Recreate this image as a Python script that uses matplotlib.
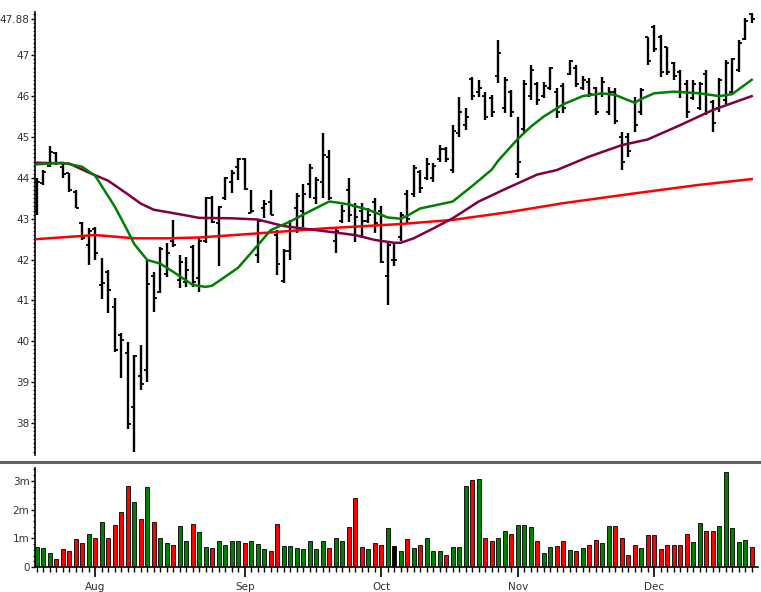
import numpy as np
import pandas as pd
import matplotlib
matplotlib.use('Agg')
import matplotlib.pyplot as plt
from matplotlib.ticker import FixedLocator, MultipleLocator, FuncFormatter
from matplotlib.lines import Line2D

plt.rcParams['font.family'] = ['DejaVu Sans']

# trading days shown (Jul 19 - Dec 22)
dates = pd.bdate_range('2011-07-19', '2011-12-22', freq='C',
                       holidays=['2011-09-05', '2011-11-24'])

opens = [43.2, 43.88, 44.3, 44.6, 44.27, 44.11, 43.66, 42.9, 42.36, 42.75,
         41.38, 41.7, 40.84, 40.15, 39.7, 38.4, 39.15, 39.3, 41.6, 41.2,
         41.65, 42.45, 41.5, 41.45, 42.3, 41.55, 42.45, 43.5, 42.9, 43.5,
         43.9, 44.27, 44.45, 43.15, 42.1, 43.25, 43.4, 42.6, 41.47, 42.2,
         43.25, 43.2, 43.85, 43.5, 43.9, 44.5, 42.45, 42.95, 43.7, 43.3,
         43.2, 42.95, 43.42, 43.2, 41.6, 42.0, 42.55, 43.6, 43.6, 44.15,
         44.0, 44.0, 44.45, 44.7, 44.2, 45.1, 45.3, 46.43, 46.1, 46.0,
         45.95, 46.5, 45.7, 46.1, 44.1, 45.2, 46.0, 46.3, 46.0, 46.2,
         46.1, 46.25, 46.55, 46.7, 46.2, 46.35, 46.2, 46.05, 45.6, 46.1,
         45.0, 45.0, 45.85, 45.6, 47.45, 47.7, 47.45, 47.2, 46.8, 46.6,
         46.3, 45.95, 45.7, 46.55, 45.85, 45.7, 45.9, 46.1, 46.65, 47.4,
         48.0]
highs = [44.0, 44.19, 44.78, 44.64, 44.33, 44.13, 43.7, 42.93, 42.76, 42.79,
         42.03, 41.74, 41.05, 40.19, 39.99, 39.66, 39.91, 41.99, 41.7, 42.31,
         42.4, 42.97, 42.11, 42.07, 42.36, 42.56, 43.54, 43.56, 43.3, 44.03,
         44.19, 44.48, 44.48, 43.7, 42.97, 43.46, 43.7, 42.72, 42.27, 42.97,
         43.64, 43.85, 44.33, 44.01, 45.09, 44.68, 42.8, 43.33, 43.99, 43.38,
         43.38, 43.25, 43.5, 43.3, 42.4, 42.44, 43.17, 43.7, 44.31, 44.19,
         44.48, 44.36, 44.8, 44.76, 45.29, 45.99, 45.7, 46.48, 46.4, 46.11,
         46.03, 47.37, 46.48, 46.15, 45.5, 46.4, 46.76, 46.35, 46.35, 46.72,
         46.19, 46.31, 46.88, 46.76, 46.5, 46.44, 46.23, 46.48, 46.23, 46.19,
         45.13, 45.09, 45.99, 46.19, 47.46, 47.74, 47.5, 47.21, 46.84, 46.64,
         46.4, 46.4, 46.35, 46.64, 45.9, 46.44, 46.88, 46.93, 47.37, 47.91,
         48.04]
lows = [43.1, 43.82, 44.27, 44.32, 43.99, 43.66, 43.25, 42.48, 41.87, 41.99,
        41.03, 40.68, 39.74, 39.09, 37.84, 37.3, 38.81, 39.01, 40.72, 41.17,
        41.58, 42.31, 41.3, 41.34, 41.34, 41.21, 42.4, 42.89, 41.83, 43.46,
        43.62, 43.95, 43.7, 43.13, 41.91, 43.01, 43.09, 41.62, 41.42, 42.0,
        42.65, 42.8, 43.5, 43.35, 43.5, 43.46, 42.15, 42.89, 42.93, 42.44,
        42.52, 42.89, 42.64, 41.91, 40.89, 41.83, 42.45, 42.89, 43.54, 43.62,
        43.95, 43.91, 44.4, 44.4, 44.11, 45.01, 45.17, 45.91, 45.99, 45.42,
        45.48, 46.31, 45.58, 45.48, 43.99, 45.13, 45.91, 45.78, 45.95, 46.15,
        45.46, 45.58, 46.52, 46.22, 46.15, 45.99, 45.54, 45.99, 45.54, 45.33,
        44.19, 44.52, 45.13, 45.54, 46.76, 47.09, 46.48, 46.52, 46.4, 45.95,
        45.46, 45.9, 45.66, 45.54, 45.13, 45.62, 45.82, 46.03, 46.6, 47.37,
        47.78]
closes = [43.9, 44.15, 44.64, 44.36, 44.1, 43.7, 43.27, 42.52, 42.7, 42.15,
          41.42, 41.25, 39.78, 40.03, 37.98, 39.63, 38.96, 41.4, 41.05, 42.27,
          42.15, 42.35, 41.95, 41.75, 41.45, 42.45, 43.5, 42.93, 43.28, 44.0,
          44.13, 44.45, 43.72, 43.2, 42.95, 43.35, 43.1, 41.9, 42.2, 42.8,
          43.55, 43.6, 44.25, 43.95, 44.55, 43.5, 42.7, 43.2, 43.1, 43.05,
          42.95, 43.1, 42.89, 41.95, 42.35, 42.0, 43.1, 43.0, 44.25, 43.75,
          44.35, 44.3, 44.7, 44.45, 45.15, 45.6, 45.5, 46.0, 46.2, 45.5,
          45.6, 47.05, 46.4, 45.6, 44.4, 46.3, 46.65, 45.9, 46.25, 46.7,
          45.6, 45.7, 46.85, 46.3, 46.4, 46.05, 45.6, 46.35, 46.1, 45.4,
          44.4, 44.65, 45.3, 46.15, 46.85, 47.15, 46.6, 46.6, 46.5, 46.1,
          45.6, 46.3, 46.3, 45.6, 45.35, 46.4, 46.8, 46.9, 47.3, 47.85,
          47.88]
volume_m = [0.70, 0.65, 0.49, 0.28, 0.63, 0.57, 0.98, 0.84, 1.15, 1.00,
            1.56, 1.02, 1.45, 1.92, 2.84, 2.27, 1.69, 2.78, 1.58, 1.00,
            0.84, 0.76, 1.44, 0.90, 1.50, 1.21, 0.70, 0.67, 0.90, 0.76,
            0.90, 0.92, 0.84, 0.91, 0.80, 0.63, 0.57, 1.50, 0.73, 0.73,
            0.67, 0.63, 0.92, 0.63, 0.92, 0.65, 1.02, 0.90, 1.40, 2.40,
            0.70, 0.63, 0.84, 0.78, 1.35, 0.73, 0.57, 0.98, 0.65, 0.76,
            1.02, 0.55, 0.57, 0.41, 0.70, 0.70, 2.84, 3.03, 3.07, 1.02,
            0.92, 1.02, 1.26, 1.15, 1.48, 1.45, 1.40, 0.92, 0.49, 0.70,
            0.73, 0.90, 0.60, 0.55, 0.65, 0.76, 0.94, 0.84, 1.42, 1.42,
            1.02, 0.41, 0.78, 0.65, 1.10, 1.13, 0.63, 0.78, 0.78, 0.78,
            1.15, 0.87, 1.53, 1.24, 1.24, 1.42, 3.31, 1.36, 0.87, 0.94,
            0.70]

# moving averages (bar index, value)
ma_fast_idx = [0, 4, 7, 9, 12, 14, 15, 17, 19, 21, 24, 26, 27, 29, 31, 34, 36,
               39, 41, 45, 46, 48, 51, 54, 56, 57, 59, 64, 67, 70, 71, 74, 76,
               78, 81, 84, 87, 89, 91, 92, 93, 95, 98, 102, 105, 107, 110]
ma_fast = [44.33, 44.37, 44.27, 44.05, 43.3, 42.7, 42.38, 41.99, 41.9, 41.7,
           41.38, 41.33, 41.36, 41.58, 41.8, 42.35, 42.72, 42.93, 43.1, 43.42,
           43.4, 43.35, 43.22, 43.03, 43.0, 43.07, 43.25, 43.42, 43.8, 44.2,
           44.42, 44.95, 45.25, 45.5, 45.8, 46.0, 46.07, 46.03, 45.9, 45.84,
           45.93, 46.07, 46.11, 46.07, 46.0, 46.05, 46.4]
ma_mid_idx = [0, 5, 8, 11, 14, 16, 18, 23, 25, 30, 34, 38, 41, 45, 49, 52, 55,
              56, 58, 61, 64, 68, 72, 77, 80, 85, 90, 94, 99, 104, 110]
ma_mid = [44.37, 44.35, 44.13, 43.93, 43.6, 43.37, 43.22, 43.08, 43.02, 43.01,
          42.98, 42.82, 42.76, 42.68, 42.6, 42.48, 42.41, 42.41, 42.52, 42.76,
          43.01, 43.42, 43.72, 44.08, 44.19, 44.52, 44.8, 44.94, 45.29, 45.66,
          46.0]
ma_slow_idx = [0, 9, 15, 20, 25, 34, 44, 56, 64, 73, 81, 92, 102, 110]
ma_slow = [42.5, 42.6, 42.52, 42.52, 42.54, 42.64, 42.76, 42.87, 42.97, 43.17,
           43.38, 43.62, 43.83, 43.97]

last_price = 47.88

x = np.arange(len(dates))
o = np.array(opens); c = np.array(closes)
vol_colors = np.where(c > o, '#008000', np.where(c < o, '#ff0000', '#000000'))

W, H = 761, 592
fig = plt.figure(figsize=(W / 100, H / 100), dpi=100)
ax = fig.add_axes([35 / W, 1 - 455 / H, 723 / W, 443 / H])
axv = fig.add_axes([35 / W, 1 - 567 / H, 723 / W, 99 / H])

# price bars
ax.vlines(x, lows, highs, color='black', lw=1.7, zorder=2)
ax.hlines(opens, x - 0.45, x, color='black', lw=1.3, zorder=2)
ax.hlines(closes, x, x + 0.45, color='black', lw=1.3, zorder=2)

ax.plot(ma_slow_idx, ma_slow, color='#ff0000', lw=1.8, zorder=3)
ax.plot(ma_mid_idx, ma_mid, color='#800040', lw=1.8, zorder=3)
ax.plot(ma_fast_idx, ma_fast, color='#008000', lw=1.8, zorder=3)

ax.set_xlim(-0.26, 110.97)
ax.set_ylim(37.215, 48.06)
for s in ['top', 'right', 'bottom']:
    ax.spines[s].set_visible(False)
ax.spines['left'].set_linewidth(1.2)
ax.set_xticks([])
yt = list(range(38, 48)) + [last_price]
ax.yaxis.set_major_locator(FixedLocator(yt))
ax.set_yticklabels([str(v) for v in range(38, 48)] + ['%.2f' % last_price])
ax.yaxis.set_minor_locator(MultipleLocator(0.1))
ax.tick_params(axis='y', which='major', length=3, width=1, pad=1,
               labelsize=7.5, labelcolor='#333333')
ax.tick_params(axis='y', which='minor', length=1.5, width=0.8)

# volume
axv.bar(x, np.array(volume_m) * 1e6, width=0.62, color=vol_colors,
        edgecolor='black', linewidth=0.6)
axv.set_xlim(-0.26, 110.97)
axv.set_ylim(0, 3.45e6)
for s in ['top', 'right']:
    axv.spines[s].set_visible(False)
axv.spines['left'].set_linewidth(1.2)
axv.spines['bottom'].set_linewidth(1.2)
axv.yaxis.set_major_locator(FixedLocator([0, 1e6, 2e6, 3e6]))
axv.yaxis.set_major_formatter(FuncFormatter(lambda v, p: '0' if v == 0 else '%dm' % round(v / 1e6)))
axv.yaxis.set_minor_locator(MultipleLocator(0.2e6))
axv.tick_params(axis='y', which='major', length=3, width=1, pad=1,
                labelsize=7.5, labelcolor='#333333')
axv.tick_params(axis='y', which='minor', length=1.5, width=0.8)

months = dates.month
month_starts = [i for i in range(1, len(dates)) if months[i] != months[i - 1]]
axv.set_xticks(month_starts)
axv.set_xticklabels([dates[i].strftime('%b') for i in month_starts])
axv.set_xticks(x, minor=True)
axv.tick_params(axis='x', which='major', length=7, width=1.2, pad=4,
                labelsize=7.5, labelcolor='#333333')
axv.tick_params(axis='x', which='minor', length=3.5, width=1)

# panel separator
fig.add_artist(Line2D([0, 1], [1 - 461.5 / H, 1 - 461.5 / H],
                      transform=fig.transFigure, color='#606060', lw=2.2))

fig.savefig('out.png', dpi=100)
